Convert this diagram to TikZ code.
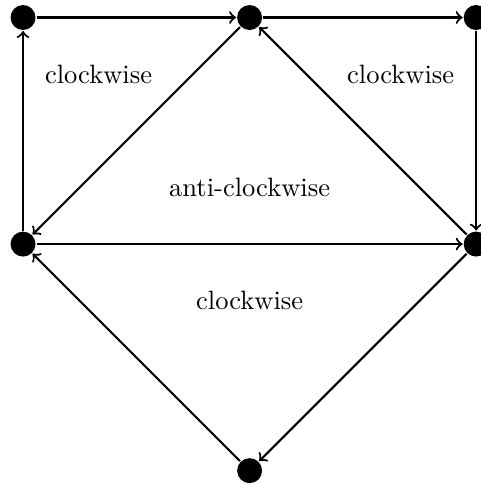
\documentclass[tikz,border=0pt]{standalone}
\usepackage{tikz}
\begin{document}
\begin{tikzpicture}[vertex/.style={circle,fill,inner sep=0pt,minimum size=9.4pt},thick]
\useasboundingbox (-.305,-3.19) rectangle (6.058,3.232);
    \node[vertex](TL) at (0,3){};
    \node[vertex](TM) at (3,3){};
    \node[vertex](TR) at (6,3){};
    \node[vertex](ML) at (0,0){};
    \node[vertex](MR) at (6,0){};
    \node[vertex](B) at (3,-3){};
    \node(F1) at (1,2.25){clockwise};
    \node(F2) at (5,2.25){clockwise};
    \node(F3) at (3,.75){anti-clockwise};
    \node(F4) at (3,-.75){clockwise};
    \draw[->](TL)--(TM); \draw[->](TM)--(TR); \draw[->](TR)--(MR); \draw[->](ML)--(TL);
    \draw[->](TM)--(ML); \draw[->](MR)--(TM); \draw[->](ML)--(MR);
    \draw[->](MR)--(B); \draw[->](B)--(ML);
\end{tikzpicture}
\end{document}
